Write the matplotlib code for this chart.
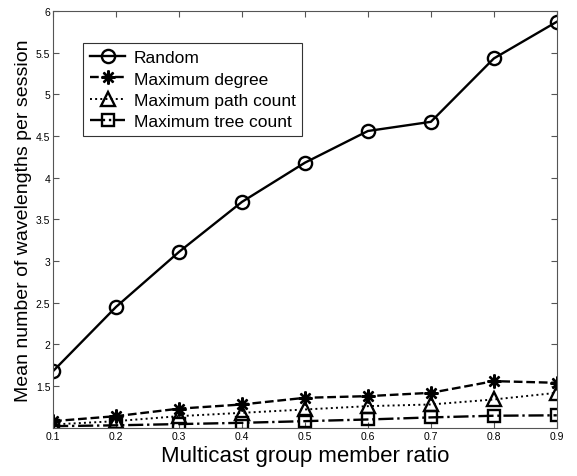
import matplotlib.pyplot as plt

plt.rcParams['font.family'] = ['Liberation Sans', 'DejaVu Sans']

# member ratio on the x axis
ratio = [0.1, 0.2, 0.3, 0.4, 0.5, 0.6, 0.7, 0.8, 0.9]

# mean number of wavelengths per session
random_sel = [1.68, 2.45, 3.11, 3.71, 4.18, 4.56, 4.67, 5.43, 5.87]
max_degree = [1.08, 1.14, 1.23, 1.28, 1.36, 1.38, 1.42, 1.56, 1.54]
max_path = [1.04, 1.08, 1.14, 1.18, 1.22, 1.26, 1.28, 1.34, 1.42]
max_tree = [1.02, 1.03, 1.045, 1.06, 1.08, 1.10, 1.125, 1.145, 1.15]

yticks = [1.5, 2, 2.5, 3, 3.5, 4, 4.5, 5, 5.5, 6]
ytick_labels = ['1.5', '2', '2.5', '3', '3.5', '4', '4.5', '5', '5.5', '6']

fig = plt.figure(figsize=(5.77, 4.77), dpi=100)
ax = fig.add_axes([0.092, 0.101, 0.873, 0.874])

ax.plot(ratio, random_sel, '-', color='black', lw=1.7, marker='o', ms=9.5,
        mfc='none', mew=1.7, label='Random')
ax.plot(ratio, max_degree, '--', color='black', lw=1.7, marker=(8, 2, 0), ms=10,
        mew=1.7, label='Maximum degree')
ax.plot(ratio, max_path, ':', color='black', lw=1.4, marker='^', ms=9.5,
        mfc='none', mew=1.7, label='Maximum path count')
ax.plot(ratio, max_tree, '-.', color='black', lw=1.7, marker='s', ms=8,
        mfc='none', mew=1.7, label='Maximum tree count')

ax.set_xlim(0.1, 0.9)
ax.set_ylim(1, 6)
ax.set_xticks(ratio)
ax.set_xticklabels([str(r) for r in ratio])
ax.set_yticks(yticks)
ax.set_yticklabels(ytick_labels)
ax.tick_params(direction='in', top=True, right=True, labelsize=7.5, length=4,
               color='#555555', pad=2)
for sp in ax.spines.values():
    sp.set_color('#555555')

ax.set_xlabel('Multicast group member ratio', fontsize=16, labelpad=3)
ax.set_ylabel('Mean number of wavelengths per session', fontsize=14, labelpad=3)

leg = ax.legend(loc='upper left', bbox_to_anchor=(0.06, 0.923), fontsize=12.5,
                fancybox=False, edgecolor='#333333', framealpha=1,
                handlelength=2.0, handletextpad=0.5, borderpad=0.4,
                labelspacing=0.36, borderaxespad=0)
leg.get_frame().set_linewidth(0.8)

fig.savefig('out.png', dpi=100)
